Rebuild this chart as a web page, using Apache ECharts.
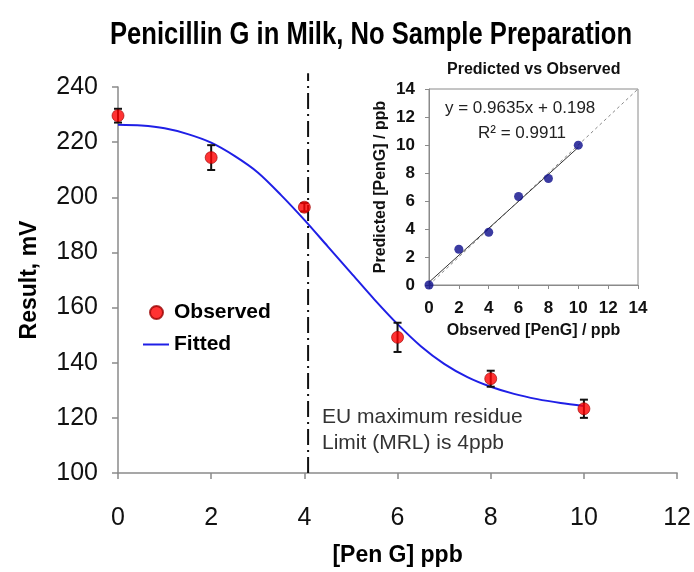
<!DOCTYPE html>
<html>
<head>
<meta charset="utf-8">
<title>Penicillin G in Milk</title>
<script src="https://cdn.jsdelivr.net/npm/echarts@6/dist/echarts.min.js"></script>
<style>
  html, body { margin: 0; padding: 0; background: #fff; }
  #chart { width: 694px; height: 572px; }
</style>
</head>
<body>
<div id="chart"></div>
<script>
// main chart: observed mV with error bars
const obsX = [0, 2, 4, 6, 8, 10]
const obsY = [229.6, 214.4, 196.4, 149.2, 134.2, 123.3]
const obsErr = [2.5, 4.5, 1.5, 5.3, 2.9, 3.3]

// fitted curve
const fitX = [0, 0.5, 1, 1.5, 2, 2.5, 3, 3.5, 4, 4.5, 5, 5.5, 6, 6.5, 7, 7.5, 8, 8.5, 9, 9.5, 10]
const fitY = [226.3, 226.0, 225.0, 222.9, 219.8, 215.0, 209.0, 200.8, 191.8, 182.2, 172.6,
  163.0, 154.0, 146.0, 139.6, 134.8, 131.3, 128.7, 126.8, 125.4, 124.3]

// MRL marker
const mrlX = 4.08
const mrlY = [100, 245]

// inset: predicted vs observed
const insetObs = [0, 2, 4, 6, 8, 10]
const insetPred = [0, 2.55, 3.77, 6.32, 7.61, 9.99]
const trendX = [0, 10]
const trendY = [0.198, 9.833]
const diagXY = [0, 14]

const FONT = "'Liberation Sans', Arial, sans-serif"

const chart = echarts.init(document.getElementById('chart'), null, { renderer: 'canvas' })

const axisGray = { lineStyle: { color: '#8a8a8a', width: 1.5 } }

// error bars drawn through the axis scale
function renderErr (params, api) {
  const x = api.value(0)
  const y = api.value(1)
  const e = api.value(2)
  const top = api.coord([x, y + e])
  const bot = api.coord([x, y - e])
  const cap = 4
  const style = { stroke: '#111', lineWidth: 2 }
  return {
    type: 'group',
    children: [
      { type: 'line', shape: { x1: top[0], y1: top[1], x2: bot[0], y2: bot[1] }, style },
      { type: 'line', shape: { x1: top[0] - cap, y1: top[1], x2: top[0] + cap, y2: top[1] }, style },
      { type: 'line', shape: { x1: bot[0] - cap, y1: bot[1], x2: bot[0] + cap, y2: bot[1] }, style }
    ]
  }
}

const option = {
  backgroundColor: '#fff',
  animation: false,
  title: [
    {
      text: 'Predicted vs Observed',
      left: 442,
      top: 57,
      textStyle: { fontFamily: FONT, fontWeight: 'bold', fontSize: 16, color: '#111' }
    }
  ],
  legend: [
    {
      data: [{ name: 'Observed', icon: 'circle' }],
      left: 144,
      top: 297,
      itemWidth: 13,
      itemHeight: 13,
      textStyle: { fontFamily: FONT, fontSize: 21, color: '#000', fontWeight: 'bold', padding: [0, 0, 0, 6] }
    },
    {
      data: [{ name: 'Fitted', icon: 'rect' }],
      left: 138,
      top: 329,
      itemWidth: 26,
      itemHeight: 2,
      textStyle: { fontFamily: FONT, fontSize: 21, color: '#000', fontWeight: 'bold' }
    }
  ],
  grid: [
    { left: 118, top: 87, width: 569, height: 390, containLabel: false },
    {
      left: 429, top: 89, width: 209, height: 196, containLabel: false,
      show: true, borderColor: '#8a8a8a', borderWidth: 1, backgroundColor: '#fff', z: 5
    }
  ],
  xAxis: [
    {
      gridIndex: 0,
      type: 'value',
      min: 0,
      max: 12,
      interval: 2,
      name: '[Pen G] ppb',
      nameLocation: 'middle',
      nameGap: 71,
      nameTextStyle: { fontFamily: FONT, fontWeight: 'bold', fontSize: 23, color: '#000' },
      axisLine: axisGray,
      axisTick: { show: true, length: 6, lineStyle: { color: '#8a8a8a', width: 1.5 } },
      axisLabel: { fontFamily: FONT, fontSize: 25, color: '#111', margin: 33 },
      splitLine: { show: false }
    },
    {
      gridIndex: 1,
      type: 'value',
      min: 0,
      max: 14,
      interval: 2,
      name: 'Observed [PenG] / ppb',
      nameLocation: 'middle',
      nameGap: 38,
      nameTextStyle: { fontFamily: FONT, fontWeight: 'bold', fontSize: 16, color: '#111' },
      axisLine: { lineStyle: { color: '#8a8a8a', width: 1 } },
      axisTick: { show: true, length: 4, lineStyle: { color: '#8a8a8a' } },
      axisLabel: { fontFamily: FONT, fontSize: 17, fontWeight: 'bold', color: '#111', margin: 15 },
      splitLine: { show: false },
      z: 6
    }
  ],
  yAxis: [
    {
      gridIndex: 0,
      type: 'value',
      min: 100,
      max: 240,
      interval: 20,
      name: 'Result, mV',
      nameLocation: 'middle',
      nameGap: 77,
      nameTextStyle: { fontFamily: FONT, fontWeight: 'bold', fontSize: 23, color: '#000' },
      axisLine: { show: true, ...axisGray },
      axisTick: { show: true, length: 6, lineStyle: { color: '#8a8a8a', width: 1.5 } },
      axisLabel: { fontFamily: FONT, fontSize: 25, color: '#111', margin: 20 },
      splitLine: { show: false }
    },
    {
      gridIndex: 1,
      type: 'value',
      min: 0,
      max: 14,
      interval: 2,
      name: 'Predicted [PenG] / ppb',
      nameLocation: 'middle',
      nameGap: 40,
      nameTextStyle: { fontFamily: FONT, fontWeight: 'bold', fontSize: 16, color: '#111' },
      axisLine: { show: true, lineStyle: { color: '#8a8a8a', width: 1 } },
      axisTick: { show: true, length: 4, lineStyle: { color: '#8a8a8a' } },
      axisLabel: { fontFamily: FONT, fontSize: 17, fontWeight: 'bold', color: '#111', margin: 14 },
      splitLine: { show: false },
      z: 6
    }
  ],
  graphic: [
    {
      // condensed bold title, squeezed horizontally like the original
      type: 'text', x: 110, y: 19, scaleX: 0.8, z: 10,
      style: {
        text: 'Penicillin G in Milk, No Sample Preparation',
        font: 'bold 32px ' + FONT,
        fill: '#000',
        textVerticalAlign: 'top'
      }
    },
    {
      type: 'text', left: 322, top: 404, z: 10,
      style: {
        text: 'EU maximum residue\nLimit (MRL) is 4ppb',
        font: '21px ' + FONT,
        fill: '#333',
        lineHeight: 26
      }
    },
    {
      type: 'text', left: 445, top: 100, z: 10,
      style: { text: 'y = 0.9635x + 0.198', font: '17px ' + FONT, fill: '#222' }
    },
    {
      type: 'text', left: 478, top: 125, z: 10,
      style: { text: 'R² = 0.9911', font: '17px ' + FONT, fill: '#222' }
    }
  ],
  series: [
    {
      name: 'MRL',
      type: 'line',
      xAxisIndex: 0,
      yAxisIndex: 0,
      data: mrlY.map(y => [mrlX, y]),
      clip: false,
      symbol: 'none',
      lineStyle: { color: '#111', width: 2, type: [16, 5, 2, 5] },
      z: 1
    },
    {
      name: 'Fitted',
      type: 'line',
      xAxisIndex: 0,
      yAxisIndex: 0,
      data: fitX.map((x, i) => [x, fitY[i]]),
      smooth: 0.3,
      symbol: 'none',
      color: '#1f1fe6',
      lineStyle: { color: '#1f1fe6', width: 2 },
      z: 2
    },
    {
      name: 'ErrorBars',
      type: 'custom',
      xAxisIndex: 0,
      yAxisIndex: 0,
      renderItem: renderErr,
      data: obsX.map((x, i) => [x, obsY[i], obsErr[i]]),
      clip: false,
      z: 3
    },
    {
      name: 'Observed',
      type: 'scatter',
      xAxisIndex: 0,
      yAxisIndex: 0,
      data: obsX.map((x, i) => [x, obsY[i]]),
      symbolSize: 12,
      color: '#ff0000',
      itemStyle: { color: '#ff0000', borderColor: '#9a0000', borderWidth: 0.8 },
      clip: false,
      z: 4
    },
    {
      name: 'Diagonal',
      type: 'line',
      xAxisIndex: 1,
      yAxisIndex: 1,
      data: diagXY.map(v => [v, v]),
      symbol: 'none',
      lineStyle: { color: '#888', width: 1, type: [3, 3] },
      z: 7
    },
    {
      name: 'Trend',
      type: 'line',
      xAxisIndex: 1,
      yAxisIndex: 1,
      data: trendX.map((x, i) => [x, trendY[i]]),
      symbol: 'none',
      lineStyle: { color: '#333', width: 1 },
      z: 8
    },
    {
      name: 'Predicted',
      type: 'scatter',
      xAxisIndex: 1,
      yAxisIndex: 1,
      data: insetObs.map((x, i) => [x, insetPred[i]]),
      symbolSize: 9,
      itemStyle: { color: '#0a0a8a' },
      clip: false,
      z: 9
    }
  ]
}

chart.setOption(option)
</script>
</body>
</html>
